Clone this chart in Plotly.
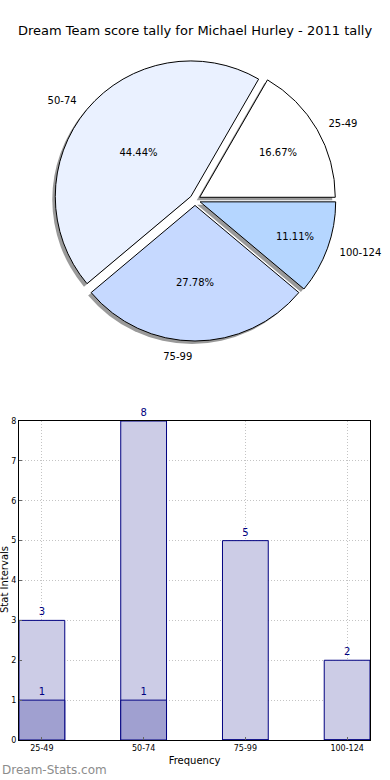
import plotly.graph_objects as go

# ---- data ----
categories = ["25-49", "50-74", "75-99", "100-124"]
totals = [3, 8, 5, 2]          # light bars / pie values
highlight = [1, 1, 0, 0]       # dark overlay bars
pie_colors = ["#ffffff", "#eaf1ff", "#c6d9ff", "#b5d6ff"]
title_text = "Dream Team score tally for Michael Hurley - 2011 tally"
y_ticks = [0, 1, 2, 3, 4, 5, 6, 7, 8]

W, H = 390, 780
FONT = "DejaVu Sans"

def px_x(v):
    return v / W

def px_y(v):
    return 1 - v / H

def dom(cx, cy, half):
    return dict(x=[px_x(cx - half), px_x(cx + half)],
                y=[px_y(cy + half), px_y(cy - half)])

pull = [0.04] * len(categories)
cx, cy, half = 195, 200, 141
sh = 3
ROT = 30  # first slice spans 0..60 degrees (counterclockwise from 3 o'clock)

fig = go.Figure()

# shadow pie
fig.add_trace(go.Pie(
    values=totals, labels=categories, sort=False, direction="counterclockwise",
    rotation=ROT, pull=pull, domain=dom(cx - sh, cy + sh, half),
    marker=dict(colors=["#9a9a9a"] * 4, line=dict(width=0)),
    textinfo="none", hoverinfo="skip", showlegend=False,
))
# main pie with percentages
fig.add_trace(go.Pie(
    values=totals, labels=categories, sort=False, direction="counterclockwise",
    rotation=ROT, pull=pull, domain=dom(cx, cy, half),
    marker=dict(colors=pie_colors, line=dict(color="#000000", width=1)),
    texttemplate="%{percent:.2%}", textposition="inside",
    insidetextorientation="horizontal",
    textfont=dict(family=FONT, size=10, color="#000000"),
    showlegend=False,
))
# outside labels (transparent, slightly larger pie)
fig.add_trace(go.Pie(
    values=totals, labels=categories, sort=False, direction="counterclockwise",
    rotation=ROT, pull=pull, domain=dom(cx, cy, half * 1.07),
    marker=dict(colors=["rgba(0,0,0,0)"] * 4, line=dict(width=0)),
    texttemplate="%{label}", textposition="outside",
    outsidetextfont=dict(family=FONT, size=10, color="#000000"),
    hoverinfo="skip", showlegend=False,
))

# bars
fig.add_trace(go.Bar(
    x=categories, y=totals, width=0.45,
    marker=dict(color="#ccccE6", line=dict(color="#000080", width=1)),
    text=[str(v) for v in totals], textposition="outside",
    textfont=dict(family=FONT, size=10, color="#000080"),
    cliponaxis=False, showlegend=False, xaxis="x", yaxis="y",
))
fig.add_trace(go.Bar(
    x=categories, y=highlight, width=0.45,
    marker=dict(color="#a0a0d0", line=dict(color="#000080", width=1)),
    text=[str(v) if v else "" for v in highlight], textposition="outside",
    textfont=dict(family=FONT, size=10, color="#000080"),
    cliponaxis=False, showlegend=False, xaxis="x", yaxis="y",
))

grid = dict(showgrid=True, gridcolor="#c4c4c4", griddash="1px,2px", gridwidth=1)

fig.update_layout(
    width=W, height=H, margin=dict(l=0, r=0, t=0, b=0, autoexpand=False),
    paper_bgcolor="white", plot_bgcolor="white",
    barmode="overlay",
    font=dict(family=FONT, color="#000000"),
    title=dict(text=title_text, x=0.5, xref="container", xanchor="center",
               y=px_y(30), yref="container", yanchor="middle",
               font=dict(family=FONT, size=13, color="#000000")),
    xaxis=dict(
        domain=[px_x(19), px_x(370)], range=[-0.225, 3.225], automargin=False,
        showline=True, linecolor="#000000", linewidth=1, mirror=True,
        ticks="inside", ticklen=3, tickcolor="#666666",
        tickfont=dict(family=FONT, size=8, color="#000000"),
        title=dict(text="Frequency", font=dict(family=FONT, size=10), standoff=5),
        zeroline=False, fixedrange=True, **grid,
    ),
    yaxis=dict(
        domain=[px_y(740), px_y(421)], range=[0, 8], automargin=False,
        tickvals=y_ticks,
        showline=True, linecolor="#000000", linewidth=1, mirror=True,
        ticks="inside", ticklen=3, tickcolor="#666666",
        tickfont=dict(family=FONT, size=8, color="#000000"),
        zeroline=False, fixedrange=True, **grid,
    ),
    annotations=[
        dict(text="Stat Intervals", textangle=-90, x=px_x(4), y=px_y(580),
             xref="paper", yref="paper", xanchor="center", yanchor="middle",
             showarrow=False,
             font=dict(family=FONT, size=10, color="#000000")),
        dict(text="Dream-Stats.com", x=0, y=px_y(770), xref="paper", yref="paper",
             xanchor="left", yanchor="middle", showarrow=False,
             font=dict(family=FONT, size=12, color="#8c8c8c")),
    ],
)

fig.write_html("out.html", config={"displayModeBar": False},
               post_script="document.body.style.margin='0px';")
